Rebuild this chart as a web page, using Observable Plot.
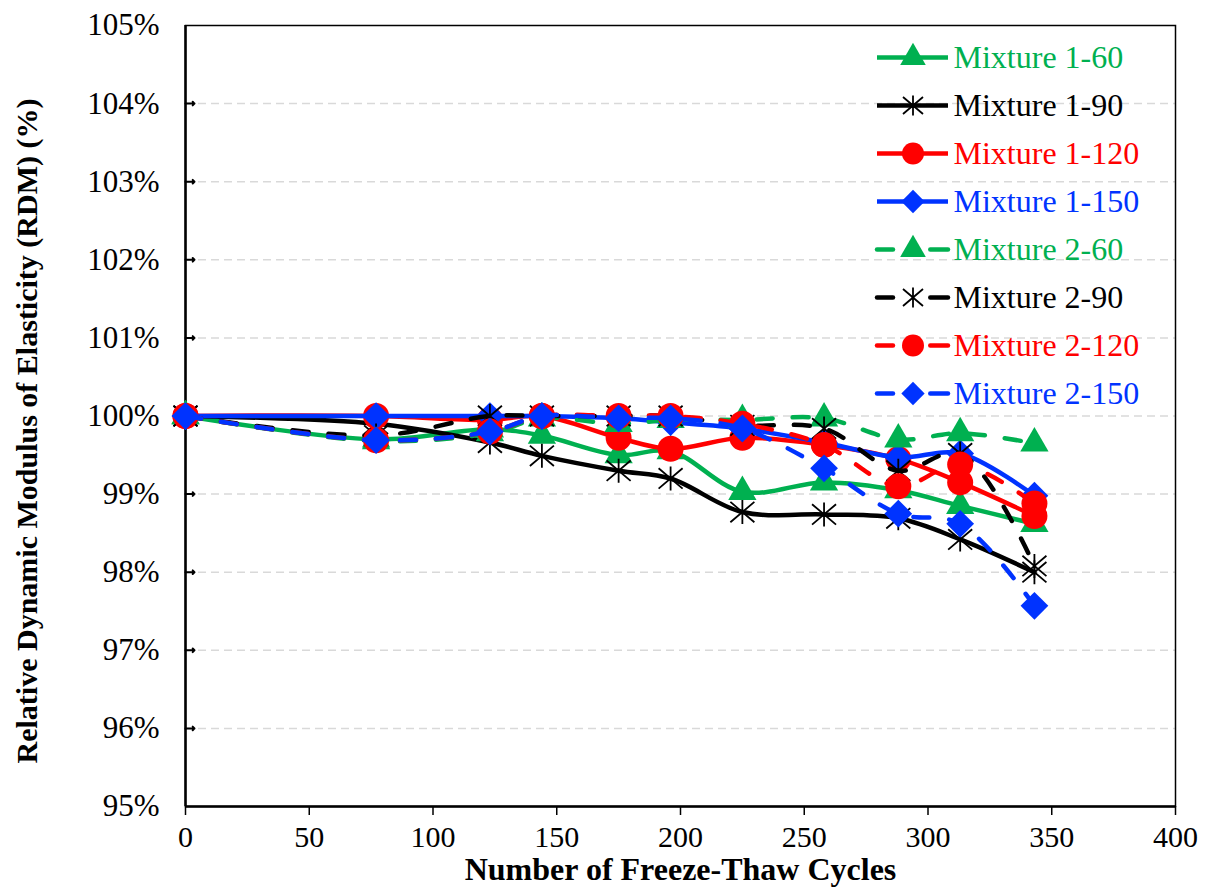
<!DOCTYPE html>
<html>
<head>
<meta charset="utf-8">
<script src="https://cdn.jsdelivr.net/npm/d3@7"></script>
<script src="https://cdn.jsdelivr.net/npm/@observablehq/plot@0.6"></script>
<style>
  html, body { margin: 0; padding: 0; background: #fff; }
  #wrap { position: relative; width: 1209px; height: 888px; }
  #legend { position: absolute; left: 869px; top: 30px; }
</style>
</head>
<body>
<div id="wrap"><div id="chart"></div><div id="legend"></div></div>
<script>
// ---- data ----
const cycles = [0, 77, 123, 144, 175, 196, 225, 258, 288, 313, 343];
const mixture1_60  = [100, 99.70, 99.83, 99.75, 99.50, 99.55, 99.03, 99.15, 99.05, 98.85, 98.62];
const mixture1_90  = [100, 99.90, 99.66, 99.49, 99.30, 99.20, 98.77, 98.74, 98.69, 98.42, 98.00];
const mixture1_120 = [100, 100.0, 99.95, 100.0, 99.72, 99.58, 99.72, 99.63, 99.45, 99.15, 98.72];
const mixture1_150 = [100, 100.0, 100.0, 100.0, 99.97, 99.92, 99.84, 99.66, 99.47, 99.52, 98.98];
const mixture2_60  = [100, 99.68, 99.78, 99.97, 99.90, 99.95, 99.95, 99.97, 99.70, 99.78, 99.65];
const mixture2_90  = [100, 99.75, 100.0, 100.0, 100.0, 100.0, 99.88, 99.84, 99.30, 99.52, 98.08];
const mixture2_120 = [100, 99.69, 99.80, 100.0, 100.0, 100.0, 99.90, 99.63, 99.10, 99.38, 98.88];
const mixture2_150 = [100, 99.69, 99.80, 100.0, 99.97, 99.97, 99.84, 99.33, 98.75, 98.62, 97.57];

const seriesNames = ["Mixture 1-60", "Mixture 1-90", "Mixture 1-120", "Mixture 1-150",
                     "Mixture 2-60", "Mixture 2-90", "Mixture 2-120", "Mixture 2-150"];
const seriesValues = [mixture1_60, mixture1_90, mixture1_120, mixture1_150,
                      mixture2_60, mixture2_90, mixture2_120, mixture2_150];
const seriesColors = ["#00b050", "#000000", "#ff0000", "#0033ff",
                      "#00b050", "#000000", "#ff0000", "#0033ff"];
const seriesKinds = ["triangle", "star", "circle", "diamond", "triangle", "star", "circle", "diamond"];
const seriesDashed = [false, false, false, false, true, true, true, true];

const xTicks = [0, 50, 100, 150, 200, 250, 300, 350, 400];
const yTicks = [95, 96, 97, 98, 99, 100, 101, 102, 103, 104, 105];
const gridTicks = [96, 97, 98, 99, 100, 101, 102, 103, 104];
const xTitle = "Number of Freeze-Thaw Cycles";
const yTitle = "Relative Dynamic Modulus of Elasticity (RDM) (%)";

// Excel-like star marker: vertical bar plus X
const excelStar = {
  draw(context, size) {
    const r = Math.sqrt(size / Math.PI);
    const dx = r, dy = r * 0.85;
    context.moveTo(0, -r); context.lineTo(0, r);
    context.moveTo(-dx, -dy); context.lineTo(dx, dy);
    context.moveTo(-dx, dy); context.lineTo(dx, -dy);
  }
};
const symbolFor = k => k === "star" ? excelStar : k === "diamond" ? "diamond2" : k;
const radiusFor = k => ({triangle: 10.5, star: 12, circle: 13, diamond: 12.5}[k]);
const legendRadiusFor = k => ({triangle: 9.5, star: 10, circle: 11, diamond: 10.5}[k]);

const table = seriesNames.map((name, i) => ({
  name, color: seriesColors[i], kind: seriesKinds[i], dashed: seriesDashed[i],
  points: cycles.map((c, j) => ({x: c, y: seriesValues[i][j], name}))
}));

const FONT = "'Liberation Serif', 'Times New Roman', serif";

const marks = [
  Plot.gridY(gridTicks, {stroke: "#d9d9d9", strokeOpacity: 1, strokeWidth: 1.5, strokeDasharray: "8,5"}),
  Plot.frame({stroke: "#000", strokeWidth: 1.5}),
  Plot.ruleX([0], {stroke: "#000", strokeWidth: 2.5}),
  Plot.ruleY([95], {stroke: "#000", strokeWidth: 2.5}),
  Plot.vector(yTicks.slice(1, -1), {y: d => d, frameAnchor: "left", length: 9, rotate: 90, anchor: "start", stroke: "#000", strokeWidth: 2}),
  Plot.axisY(yTicks, {tickSize: 0, tickPadding: 26, tickFormat: d => d + "%", fontSize: 31, label: null}),
  Plot.axisX(xTicks, {tickSize: 9, tickPadding: 10, strokeWidth: 1.5, fontSize: 30, label: null}),
  Plot.text([xTitle], {frameAnchor: "bottom", textAnchor: "middle", lineAnchor: "bottom", dy: 73, fontWeight: "bold", fontSize: 32, fill: "#000"}),
  Plot.text([yTitle], {frameAnchor: "left", textAnchor: "middle", lineAnchor: "middle", dx: -158, dy: 15, rotate: -90, fontWeight: "bold", fontSize: 30, fill: "#000"})
];

for (const s of table) {
  marks.push(Plot.line(s.points, {
    x: "x", y: "y", stroke: s.color, strokeWidth: 4.5, curve: "catmull-rom",
    strokeDasharray: s.dashed ? "16,20" : null, strokeLinecap: "round"
  }));
  const isStar = s.kind === "star";
  marks.push(Plot.dot(s.points, {
    x: "x", y: "y", symbol: symbolFor(s.kind), r: radiusFor(s.kind),
    fill: isStar ? "none" : s.color, stroke: s.color, strokeWidth: isStar ? 1.8 : 0
  }));
}

const chart = Plot.plot({
  width: 1209, height: 888,
  marginLeft: 185, marginRight: 34, marginTop: 25, marginBottom: 82,
  x: {domain: [0, 400]},
  y: {domain: [95, 105]},
  style: {fontFamily: FONT, fontSize: "30px", color: "#000", background: "#fff"},
  marks
});
document.getElementById("chart").appendChild(chart);

// ---- legend (overlay inside plot area) ----
const legendMarks = [];
for (const s of table) {
  const row = [{name: s.name}];
  if (s.dashed) {
    legendMarks.push(Plot.ruleY(row, {y: "name", x1: 0, x2: 0.225, stroke: s.color, strokeWidth: 4.5, strokeLinecap: "round"}));
    legendMarks.push(Plot.ruleY(row, {y: "name", x1: 0.75, x2: 1, stroke: s.color, strokeWidth: 4.5, strokeLinecap: "round"}));
  } else {
    legendMarks.push(Plot.ruleY(row, {y: "name", x1: 0, x2: 1, stroke: s.color, strokeWidth: 4.5}));
  }
  const isStar = s.kind === "star";
  legendMarks.push(Plot.dot(row, {
    x: () => 0.5, y: "name", symbol: symbolFor(s.kind), r: legendRadiusFor(s.kind),
    fill: isStar ? "none" : s.color, stroke: s.color, strokeWidth: isStar ? 1.8 : 0
  }));
  legendMarks.push(Plot.text(row, {x: () => 1, y: "name", text: "name", dx: 5, textAnchor: "start", fill: s.color, fontSize: 32}));
}
const legend = Plot.plot({
  width: 320, height: 400,
  marginLeft: 8, marginRight: 241, marginTop: 25, marginBottom: 36,
  x: {domain: [0, 1], axis: null},
  y: {type: "point", domain: seriesNames, padding: 0, axis: null},
  style: {fontFamily: FONT, fontSize: "32px", background: "transparent", overflow: "visible"},
  marks: legendMarks
});
document.getElementById("legend").appendChild(legend);
</script>
</body>
</html>
